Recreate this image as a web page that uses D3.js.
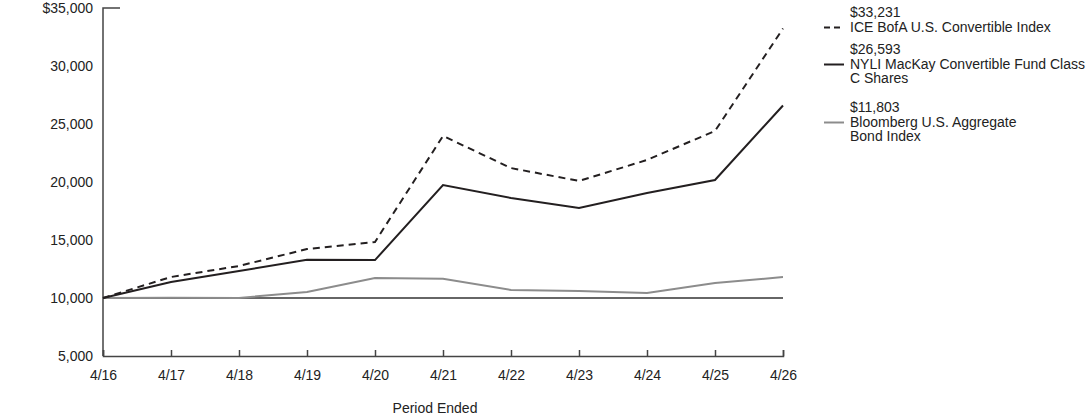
<!DOCTYPE html>
<html>
<head>
<meta charset="utf-8">
<script src="https://cdn.jsdelivr.net/npm/d3@7"></script>
<style>
  body { margin: 0; background: #fff; }
  text { font-family: "Liberation Sans", Arial, sans-serif; fill: #222; }
</style>
</head>
<body>
<svg id="chart" width="1092" height="417"></svg>
<script>
const periods = ["4/16", "4/17", "4/18", "4/19", "4/20", "4/21", "4/22", "4/23", "4/24", "4/25", "4/26"];
const iceValues = [10000, 11810, 12760, 14220, 14830, 23970, 21200, 20090, 21900, 24400, 33231];
const nyliValues = [10000, 11380, 12330, 13300, 13270, 19740, 18620, 17760, 19050, 20170, 26593];
const bloombergValues = [10000, 10030, 10010, 10520, 11720, 11650, 10690, 10600, 10430, 11290, 11803];
const yTicks = [5000, 10000, 15000, 20000, 25000, 30000, 35000];

const seriesInfo = [
  { name: ["$33,231", "ICE BofA U.S. Convertible Index"], values: iceValues, color: "#231f20", dash: "7,5", width: 2 },
  { name: ["$26,593", "NYLI MacKay Convertible Fund Class", "C Shares"], values: nyliValues, color: "#231f20", dash: null, width: 2 },
  { name: ["$11,803", "Bloomberg U.S. Aggregate", "Bond Index"], values: bloombergValues, color: "#8c8c8c", dash: null, width: 2 }
];

const svg = d3.select("#chart");
const margin = { top: 8, left: 103 };
const plotWidth = 680;
const plotHeight = 348;
const fontSize = "14px";

const g = svg.append("g")
  .attr("transform", `translate(${margin.left},${margin.top})`);

const x = d3.scalePoint().domain(periods).range([0, plotWidth]);
const y = d3.scaleLinear().domain([5000, 35000]).range([plotHeight, 0]);

// y axis labels (no tick marks)
g.selectAll(".ylab")
  .data(yTicks)
  .join("text")
  .attr("class", "ylab")
  .attr("x", -10)
  .attr("y", d => y(d))
  .attr("dy", "0.35em")
  .attr("text-anchor", "end")
  .attr("font-size", fontSize)
  .text(d => (d === 35000 ? "$" : "") + d3.format(",")(d));

// y axis line + top stub
g.append("path")
  .attr("d", `M17,${y(35000)}H0V${plotHeight}`)
  .attr("fill", "none")
  .attr("stroke", "#444")
  .attr("stroke-width", 1.5);

// x axis
const xAxis = g.append("g")
  .attr("transform", `translate(0,${plotHeight})`)
  .call(d3.axisBottom(x).tickSize(-6).tickPadding(14));
xAxis.select(".domain").attr("stroke", "#444").attr("stroke-width", 1.5);
xAxis.selectAll(".tick line").attr("stroke", "#444").attr("stroke-width", 1.5);
xAxis.selectAll(".tick text")
  .attr("font-size", fontSize)
  .attr("font-family", "Liberation Sans, Arial, sans-serif")
  .attr("fill", "#222");

// baseline at 10,000
g.append("line")
  .attr("x1", 0)
  .attr("x2", plotWidth)
  .attr("y1", y(10000))
  .attr("y2", y(10000))
  .attr("stroke", "#333")
  .attr("stroke-width", 1.5);

g.append("text")
  .attr("x", 332)
  .attr("y", 405)
  .attr("text-anchor", "middle")
  .attr("font-size", fontSize)
  .text("Period Ended");

const line = d3.line()
  .x((d, i) => x(periods[i]))
  .y(d => y(d));

// draw gray first so dark lines sit on top
[seriesInfo[2], seriesInfo[0], seriesInfo[1]].forEach(s => {
  g.append("path")
    .attr("d", line(s.values))
    .attr("fill", "none")
    .attr("stroke", s.color)
    .attr("stroke-width", s.width)
    .attr("stroke-dasharray", s.dash);
});

// legend
const legendTops = [13, 50, 108];
const legend = svg.selectAll(".legend")
  .data(seriesInfo)
  .join("g")
  .attr("class", "legend")
  .attr("transform", (d, i) => `translate(824,${legendTops[i]})`);

legend.append("line")
  .attr("x1", 0)
  .attr("x2", 20)
  .attr("y1", 14.5)
  .attr("y2", 14.5)
  .attr("stroke", d => d.color)
  .attr("stroke-width", 2)
  .attr("stroke-dasharray", d => d.dash ? "6,4" : null);

legend.each(function(d) {
  const t = d3.select(this).append("text")
    .attr("x", 26)
    .attr("y", 4)
    .attr("font-size", fontSize);
  d.name.forEach((ln, k) => {
    t.append("tspan").attr("x", 26).attr("dy", k === 0 ? 0 : 14.5).text(ln);
  });
});
</script>
</body>
</html>
